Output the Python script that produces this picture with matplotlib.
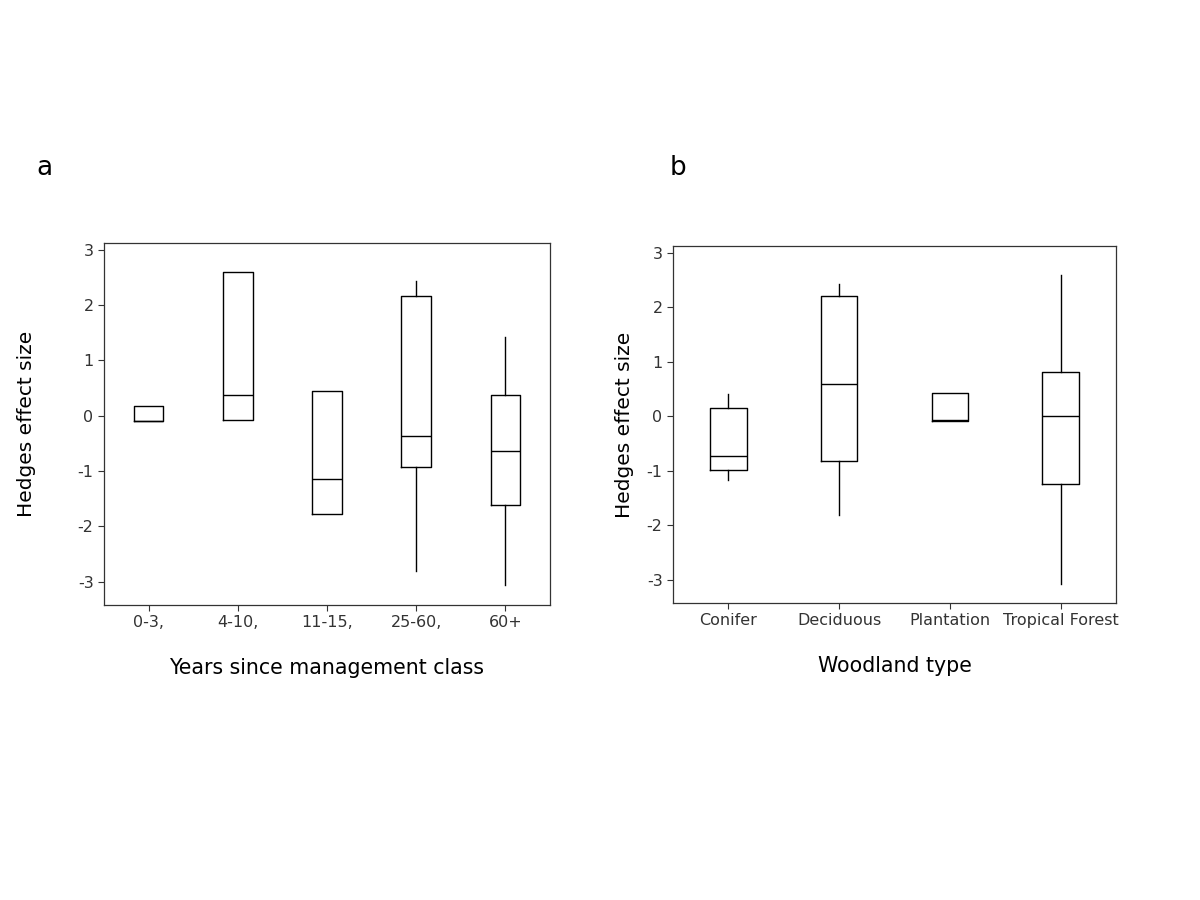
import matplotlib.pyplot as plt
import numpy as np

# panel a: years since management class
years_labels = ['0-3,', '4-10,', '11-15,', '25-60,', '60+']
years_whislo = [-0.09, -0.07, -1.78, -2.80, -3.05]
years_q1 = [-0.09, -0.07, -1.78, -0.93, -1.61]
years_med = [-0.09, 0.38, -1.14, -0.37, -0.63]
years_q3 = [0.18, 2.60, 0.44, 2.16, 0.38]
years_whishi = [0.18, 2.60, 0.44, 2.43, 1.42]

# panel b: woodland type
wood_labels = ['Conifer', 'Deciduous', 'Plantation', 'Tropical Forest']
wood_whislo = [-1.16, -1.80, -0.085, -3.07]
wood_q1 = [-0.99, -0.81, -0.085, -1.24]
wood_med = [-0.72, 0.59, -0.07, 0.0]
wood_q3 = [0.16, 2.21, 0.43, 0.81]
wood_whishi = [0.40, 2.43, 0.43, 2.58]


def make_stats(labels, lo, q1, med, q3, hi):
    return [dict(label=l, whislo=a, q1=b, med=c, q3=d, whishi=e, fliers=[])
            for l, a, b, c, d, e in zip(labels, lo, q1, med, q3, hi)]


def draw(ax, stats, xlabel, ypad):
    ax.bxp(stats, widths=0.33, showcaps=False, showfliers=False,
           boxprops=dict(color='black', linewidth=1.0),
           whiskerprops=dict(color='black', linewidth=1.0),
           medianprops=dict(color='black', linewidth=1.0))
    ax.set_xlim(0.5, len(stats) + 0.5)
    ax.set_ylim(-3.42, 3.12)
    ax.set_yticks(np.arange(-3, 4))
    ax.set_yticklabels([str(v) for v in range(-3, 4)])
    ax.tick_params(colors='#333333', labelsize=11.5, length=4, width=0.8)
    for s in ax.spines.values():
        s.set_color('#333333')
        s.set_linewidth(0.9)
    ax.set_xlabel(xlabel, fontsize=14.8, labelpad=20)
    ax.set_ylabel('Hedges effect size', fontsize=14.5, labelpad=ypad)


fig = plt.figure(figsize=(12, 9), dpi=100)
ax1 = fig.add_axes([104 / 1200, 1 - 605 / 900, 446 / 1200, 362 / 900])
ax2 = fig.add_axes([673 / 1200, 1 - 603 / 900, 443 / 1200, 357 / 900])

draw(ax1, make_stats(years_labels, years_whislo, years_q1, years_med, years_q3, years_whishi),
     'Years since management class', 30)
draw(ax2, make_stats(wood_labels, wood_whislo, wood_q1, wood_med, wood_q3, wood_whishi),
     'Woodland type', 9)

fig.text(36 / 1200, 1 - 168 / 900, 'a', fontsize=19, va='center')
fig.text(670 / 1200, 1 - 168 / 900, 'b', fontsize=19, va='center')

plt.savefig('out.png', dpi=100)
plt.close(fig)
